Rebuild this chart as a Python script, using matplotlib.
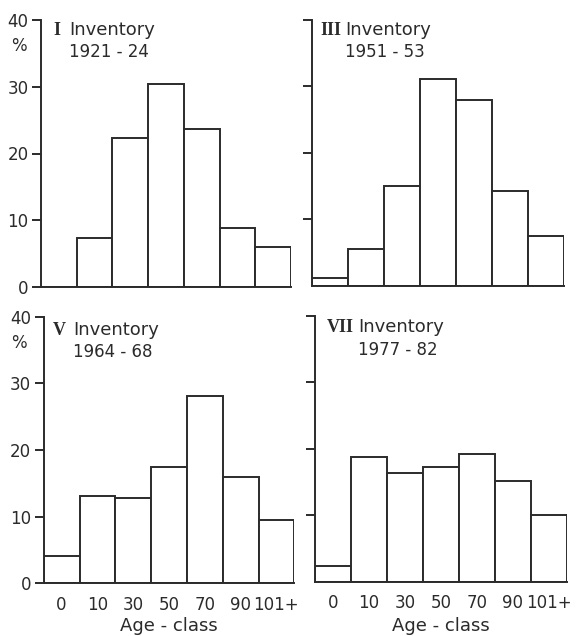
import matplotlib
matplotlib.use("Agg")
import matplotlib.pyplot as plt

plt.rcParams['font.family'] = ['DejaVu Sans']

age_classes = ["0", "10", "30", "50", "70", "90", "101+"]
inv_I = [0.0, 7.4, 22.3, 30.4, 23.6, 8.8, 6.0]
inv_III = [1.2, 5.6, 15.0, 31.1, 28.0, 14.3, 7.5]
inv_V = [4.1, 13.1, 12.8, 17.5, 28.1, 15.9, 9.5]
inv_VII = [2.4, 18.7, 16.3, 17.2, 19.2, 15.1, 10.0]

numerals = ["I", "III", "V", "VII"]
periods = ["1921 - 24", "1951 - 53", "1964 - 68", "1977 - 82"]
series = [inv_I, inv_III, inv_V, inv_VII]

W, H = 576, 636
fig = plt.figure(figsize=(W / 100, H / 100), dpi=100)

# axes boxes in pixels: left, right, bottom(y from top), top(y from top)
boxes = [(41, 291, 287, 20), (311.7, 564, 285.7, 20),
         (43.7, 294.3, 583.3, 316.7), (315, 566.7, 581.7, 316)]
# text anchors (numeral x, text x, baseline1 y, baseline2 y)
texts = [(53, 69, 35, 57), (320, 345, 35, 57),
         (53, 73, 335, 357), (327, 358, 332, 355)]

lc = "#2b2b2b"
lw = 1.4
fs = 12

for i, (vals, box, tx) in enumerate(zip(series, boxes, texts)):
    l, r, b, t = box
    ax = fig.add_axes([l / W, 1 - b / H, (r - l) / W, (b - t) / H])
    x = list(range(len(vals)))
    ax.bar([xi + 0.5 for xi in x], vals, width=1.0, color="white",
           edgecolor=lc, linewidth=lw)
    ax.set_xlim(0, 7)
    ax.set_ylim(0, 40)
    for s in ["top", "right"]:
        ax.spines[s].set_visible(False)
    for s in ["left", "bottom"]:
        ax.spines[s].set_color(lc)
        ax.spines[s].set_linewidth(lw)
    left_col = i in (0, 2)
    bottom_row = i in (2, 3)
    if left_col:
        ax.set_yticks([0, 10, 20, 30, 40])
        ax.set_yticklabels(["0", "10", "20", "30", "40"])
    else:
        ax.set_yticks([10, 20, 30, 40])
        ax.set_yticklabels([])
    ax.tick_params(axis="y", direction="out", length=6.5, width=lw,
                   color=lc, labelsize=fs, pad=2.5, labelcolor=lc)
    if bottom_row:
        ax.set_xticks([xi + 0.5 for xi in x])
        ax.set_xticklabels(age_classes)
        ax.tick_params(axis="x", length=0, labelsize=fs, pad=9,
                       labelcolor=lc)
        fig.text(((l + r) / 2) / W, 1 - 631 / H, "Age - class",
                 ha="center", va="baseline", fontsize=fs + 1, color=lc)
    else:
        ax.set_xticks([])
    if left_col:
        fig.text(19 / W, 1 - (t + 31) / H, "%", ha="center",
                 va="baseline", fontsize=fs, color=lc)
    nx, txx, b1, b2 = tx
    fig.text(nx / W, 1 - b1 / H, numerals[i], ha="left", va="baseline",
             fontsize=13, color=lc, family="Liberation Serif",
             fontweight="bold")
    fig.text(txx / W, 1 - b1 / H, "Inventory", ha="left", va="baseline",
             fontsize=fs + 1, color=lc)
    fig.text(txx / W, 1 - b2 / H, periods[i], ha="left", va="baseline",
             fontsize=fs, color=lc)

fig.savefig("out.png", dpi=100, facecolor="white")
